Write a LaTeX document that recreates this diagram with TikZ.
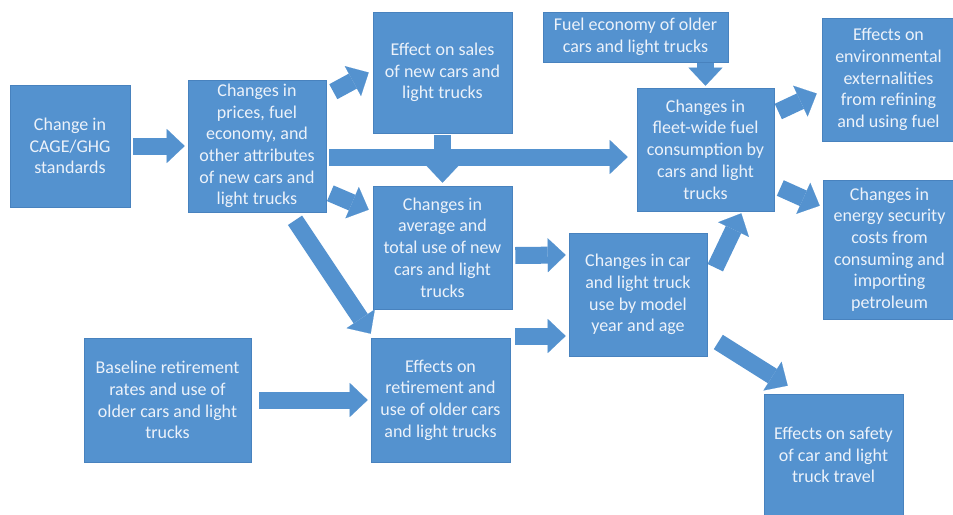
\documentclass[tikz,border=0pt]{standalone}
\usepackage{fontspec}
\setmainfont{Carlito}
\usepackage{tikz}
\usetikzlibrary{arrows.meta, positioning, calc}
\usepackage{xcolor}
\definecolor{boxblue}{RGB}{84,146,207}
\definecolor{boxedge}{RGB}{72,130,190}
\definecolor{boxtext}{RGB}{236,242,250}

\tikzset{
  blk/.style={rectangle, fill=boxblue, draw=boxedge, line width=0.6pt,
    text=boxtext, align=center, inner sep=0pt,
    font=\fontsize{18}{21.7}\selectfont},
  fat/.style={draw=boxblue, line width=17pt,
    -{Triangle[width=34pt,length=18pt,line width=0.1pt,fill=boxblue]}},
}

\begin{document}
\begin{tikzpicture}[x=1pt, y=-1pt]
        \useasboundingbox (0,0) rectangle (953,514);
        % Boxes
        \node[blk,minimum width=120,minimum height=122] (cage) at (70,146)
          {Change in\\CAGE/GHG\\standards};
        \node[blk,minimum width=138,minimum height=132] (attr) at (257,146)
          {Changes in\\prices, fuel\\economy, and\\other attributes\\of new cars and\\light trucks};
        \node[blk,minimum width=139,minimum height=121] (sales) at (442.5,72.5)
          {Effect on sales\\of new cars and\\light trucks};
        \node[blk,minimum width=185,minimum height=50] (oldfuel) at (635.5,37)
          {Fuel economy of older\\cars and light trucks};
        \node[blk,minimum width=137,minimum height=123] (fleet) at (705.5,149.5)
          {Changes in\\fleet-wide fuel\\consumption by\\cars and light\\trucks};
        \node[blk,minimum width=133,minimum height=123] (envir) at (888.5,79.5)
          {Effects on\\environmental\\externalities\\from refining\\and using fuel};
        \node[blk,minimum width=133,minimum height=139] (energy) at (889.5,249.5)
          {Changes in\\energy security\\costs from\\consuming and\\importing\\petroleum};
        \node[blk,minimum width=139,minimum height=123] (avguse) at (442.5,247.5)
          {Changes in\\average and\\total use of new\\cars and light\\trucks};
        \node[blk,minimum width=138,minimum height=123] (modeluse) at (638,294.5)
          {Changes in car\\and light truck\\use by model\\year and age};
        \node[blk,minimum width=167,minimum height=124] (baseret) at (167.5,400)
          {Baseline retirement\\rates and use of\\older cars and light\\trucks};
        \node[blk,minimum width=139,minimum height=124] (retire) at (440.5,400)
          {Effects on\\retirement and\\use of older cars\\and light trucks};
        \node[blk,minimum width=139,minimum height=122] (safety) at (833.5,455)
          {Effects on safety\\of car and light\\truck travel};
        % Block arrows
        \draw[fat] ($(cage.east)+(3,0)$) -- ($(attr.west)+(-3,0)$);
        \draw[fat] ($(attr.north east)+(7,12)$) -- ($(sales.west)+(-4,0)$);
        \draw[fat] ($(attr.east)+(3,11)$) -- ($(fleet.west)+(-9,7.5)$);
        \draw[fat] ($(attr.south east)+(4,-19)$) -- ($(avguse.north west)+(-4,24)$);
        \draw[fat] ($(attr.south)+(38,8)$) -- ($(retire.north west)+(0,-4)$);
        \draw[fat] ($(sales.south)+(0,2)$) -- ($(avguse.north)+(0,-3)$);
        \draw[fat] ($(avguse.east)+(3,8)$) -- ($(modeluse.west)+(-3,-39.5)$);
        \draw[fat] ($(retire.east)+(5,-64)$) -- ($(modeluse.west)+(-3,41.5)$);
        \draw[fat] ($(baseret.east)+(8,0)$) -- ($(retire.west)+(-3,0)$);
        \draw[fat] ($(fleet.north |- oldfuel.south)+(0,1)$) -- ($(fleet.north)+(0,-2)$);
        \draw[fat] ($(modeluse.north east)+(8,35)$) -- ($(fleet.south east)+(-33,2)$);
        \draw[fat] ($(fleet.east)+(4,-38)$) -- ($(envir.west)+(-5,14)$);
        \draw[fat] ($(fleet.east)+(6,38.5)$) -- ($(energy.north west)+(-3,26)$);
        \draw[fat] ($(modeluse.east)+(11,47.5)$) -- ($(safety.north west)+(24,-8)$);
      \end{tikzpicture}
\end{document}
